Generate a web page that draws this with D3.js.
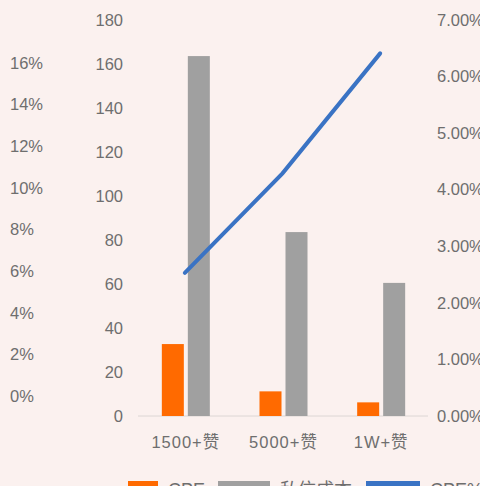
<!DOCTYPE html>
<html>
<head>
<meta charset="utf-8">
<script src="https://cdn.jsdelivr.net/npm/d3@7"></script>
<style>
  html, body { margin: 0; padding: 0; background: #fbf1ef; }
  svg { display: block; }
  text { font-family: "Liberation Sans", Arial, "Noto Sans CJK SC", sans-serif; fill: #6e6e6e; }
</style>
</head>
<body>
<svg id="chart" width="480" height="486"></svg>
<script>
// Categories and series
const categories = ["1500+赞", "5000+赞", "1W+赞"];
const cpe = [32.7, 11.2, 6.2];            // CPE (left bar, middle axis)
const dmCost = [163.6, 83.6, 60.5];       // 私信成本 (right bar, middle axis)
const cpeRate = [2.53, 4.29, 6.41];       // line, right axis (%)
const midTicks = [0, 20, 40, 60, 80, 100, 120, 140, 160, 180];
const leftTicks = [0, 2, 4, 6, 8, 10, 12, 14, 16];
const rightTicks = [0, 1, 2, 3, 4, 5, 6, 7];
const legendItems = [
  { label: "CPE", color: "#ff6a00" },
  { label: "私信成本", color: "#a0a0a0" },
  { label: "CPE%", color: "#3a73c4" }
];

const svg = d3.select("#chart");
const baseY = 416, topY = 20;

const x = d3.scaleBand().domain(categories).range([136, 429]);
const yMid = d3.scaleLinear().domain([0, 180]).range([baseY, topY]);
const yRight = d3.scaleLinear().domain([0, 7]).range([baseY, topY]);
const yLeft = d3.scaleLinear().domain([0, 16]).range([396, 63]);

const font = 16.5;

// Left percentage axis
const leftAxis = d3.axisLeft(yLeft).tickValues(leftTicks).tickFormat(d => d + "%").tickSize(0);
const gl = svg.append("g").attr("transform", "translate(10,0)").call(leftAxis);
gl.select(".domain").remove();
gl.selectAll("text").attr("text-anchor", "start").attr("x", 0).style("font-size", font + "px").attr("fill", "#6e6e6e");

// Middle value axis
const midAxis = d3.axisLeft(yMid).tickValues(midTicks).tickSize(0);
const gm = svg.append("g").attr("transform", "translate(123,0)").call(midAxis);
gm.select(".domain").remove();
gm.selectAll("text").attr("x", 0).style("font-size", font + "px").attr("fill", "#6e6e6e");

// Right percentage axis
const rightAxis = d3.axisRight(yRight).tickValues(rightTicks).tickFormat(d => d.toFixed(2) + "%").tickSize(0);
const gr = svg.append("g").attr("transform", "translate(437,0)").call(rightAxis);
gr.select(".domain").remove();
gr.selectAll("text").attr("x", 0).style("font-size", font + "px").attr("fill", "#6e6e6e");

// Baseline
svg.append("line").attr("x1", 138).attr("x2", 428).attr("y1", baseY).attr("y2", baseY)
  .attr("stroke", "#dcd6d4").attr("stroke-width", 1);

// Bars
const barW = 22, gap = 4;
const center = d => x(d) + x.bandwidth() / 2 + 1;
svg.append("g").selectAll("rect").data(categories).join("rect")
  .attr("x", d => center(d) - gap / 2 - barW)
  .attr("y", (d, i) => yMid(cpe[i]))
  .attr("width", barW)
  .attr("height", (d, i) => baseY - yMid(cpe[i]))
  .attr("fill", "#ff6a00");
svg.append("g").selectAll("rect").data(categories).join("rect")
  .attr("x", d => center(d) + gap / 2)
  .attr("y", (d, i) => yMid(dmCost[i]))
  .attr("width", barW)
  .attr("height", (d, i) => baseY - yMid(dmCost[i]))
  .attr("fill", "#a0a0a0");

// Line
const line = d3.line().x((d, i) => x(categories[i]) + x.bandwidth() / 2).y(d => yRight(d));
svg.append("path").datum(cpeRate).attr("d", line)
  .attr("fill", "none").attr("stroke", "#3a73c4").attr("stroke-width", 4)
  .attr("stroke-linecap", "round");

// Category labels
svg.append("g").selectAll("text").data(categories).join("text")
  .attr("x", d => x(d) + x.bandwidth() / 2 + 1)
  .attr("y", 448)
  .attr("text-anchor", "middle")
  .style("font-size", font + "px")
  .style("letter-spacing", "1px")
  .text(d => d);

// Legend along the bottom edge
const legendX = [128, 218, 366];
const swW = [30, 52, 54];
const lg = svg.append("g");
legendItems.forEach((it, i) => {
  lg.append("rect").attr("x", legendX[i]).attr("y", 481).attr("width", swW[i]).attr("height", 8).attr("fill", it.color);
  lg.append("text").attr("x", legendX[i] + swW[i] + 10).attr("y", 496)
    .style("font-size", "18px").text(it.label);
});
</script>
</body>
</html>
